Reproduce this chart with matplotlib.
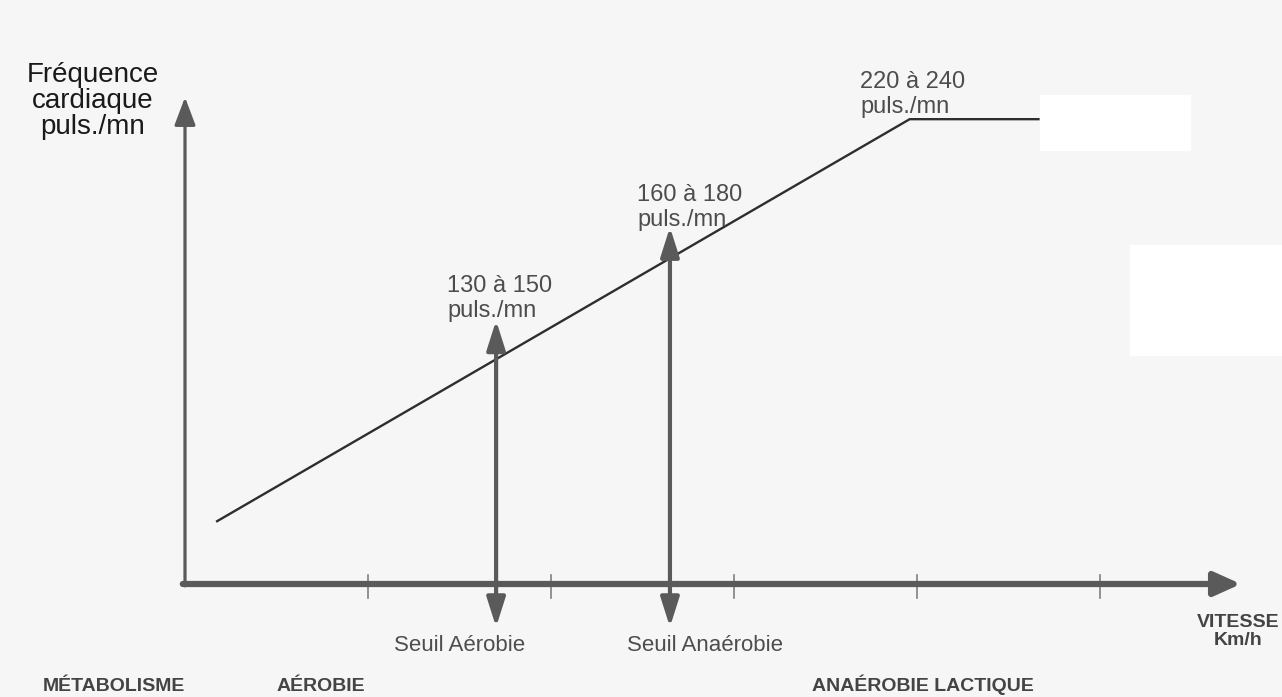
import matplotlib
matplotlib.use('Agg')
import matplotlib.pyplot as plt
from matplotlib.patches import Rectangle

# scale: one unit = one tick interval on the speed axis
UNIT = 183.0
X0, Y0 = 185.0, 584.0
W, H = 1282, 697

speed_ticks = [1, 2, 3, 4, 5]
curve_speed = [0.17, 3.96, 4.67]
curve_hr = [0.34, 2.54, 2.54]
threshold_speed = [1.70, 2.65]
threshold_top = [1.44, 1.95]
threshold_bottom = -0.235
threshold_names = ['Seuil Aérobie', 'Seuil Anaérobie']
threshold_hr = ['130 à 150\npuls./mn', '160 à 180\npuls./mn']
max_hr = '220 à 240\npuls./mn'
zones = ['MÉTABOLISME', 'AÉROBIE', 'ANAÉROBIE LACTIQUE']
axis_end_speed = 5.77
axis_end_hr = 2.66

AXIS = '#5a5a5a'
TEXT = '#4d4d4d'
FONT = 'Liberation Sans'


def px(x, y):
    # pixel position of the reference -> data coords
    return (x - X0) / UNIT, (Y0 - y) / UNIT


fig = plt.figure(figsize=(W / 100, H / 100), dpi=100, facecolor='#f6f6f6')
ax = fig.add_axes([0, 0, 1, 1])
ax.set_facecolor('#f6f6f6')
ax.set_xlim(-X0 / UNIT, (W - X0) / UNIT)
ax.set_ylim((Y0 - H) / UNIT, Y0 / UNIT)
ax.axis('off')

# erased patches of the scan
for (x, y, w, h) in [(1040, 95, 150, 55), (1130, 245, 152, 110)]:
    x1, y1 = px(x, y + h)
    ax.add_patch(Rectangle((x1, y1), w / UNIT, h / UNIT, color='white', zorder=0))

# axes
ax.annotate('', xy=(axis_end_speed, 0), xytext=(-0.012, 0),
            arrowprops=dict(arrowstyle='-|>,head_length=0.8,head_width=0.36', lw=4.5,
                            color=AXIS, mutation_scale=20, shrinkA=0, shrinkB=0))
ax.annotate('', xy=(0, axis_end_hr), xytext=(0, -0.01),
            arrowprops=dict(arrowstyle='-|>,head_length=0.85,head_width=0.32', lw=2.3,
                            color=AXIS, mutation_scale=20, shrinkA=0, shrinkB=0))
for t in speed_ticks:
    ax.plot([t, t], [0.05, -0.075], color='#808080', lw=1.2)

# heart rate curve
ax.plot(curve_speed, curve_hr, color='#2e2e2e', lw=1.7, solid_capstyle='butt')

# thresholds
name_shift = [-0.2, 0.19]
for xs, top, name, hr, dx in zip(threshold_speed, threshold_top, threshold_names,
                                 threshold_hr, name_shift):
    ax.annotate('', xy=(xs, top), xytext=(xs, threshold_bottom),
                arrowprops=dict(arrowstyle='<|-|>,head_length=0.85,head_width=0.27', lw=3,
                                color=AXIS, mutation_scale=21, shrinkA=0, shrinkB=0))
    ax.text(xs + dx, threshold_bottom - 0.045, name, ha='center', va='top',
            fontsize=16, color=TEXT, family=FONT)

ax.text(*px(447, 317), threshold_hr[0], ha='left', va='baseline', fontsize=17,
        color=TEXT, family=FONT, linespacing=1.2)
ax.text(*px(637, 226), threshold_hr[1], ha='left', va='baseline', fontsize=17,
        color=TEXT, family=FONT, linespacing=1.2)
ax.text(*px(860, 113), max_hr, ha='left', va='baseline', fontsize=17, color=TEXT,
        family=FONT, linespacing=1.2)

ax.text(*px(93, 62), 'Fréquence\ncardiaque\npuls./mn', ha='center', va='top',
        fontsize=20, color='#1a1a1a', family=FONT, linespacing=1.0)

ax.text(*px(1238, 614), 'VITESSE\nKm/h', ha='center', va='top', fontsize=14,
        color='#444444', family=FONT, weight='bold', linespacing=1.1)

for name, xz in zip(zones, [43, 277, 812]):
    ax.text(*px(xz, 691), name, ha='left', va='baseline', fontsize=14,
            color='#444444', family=FONT, weight='bold')

fig.savefig('out.png', dpi=100, facecolor=fig.get_facecolor())
